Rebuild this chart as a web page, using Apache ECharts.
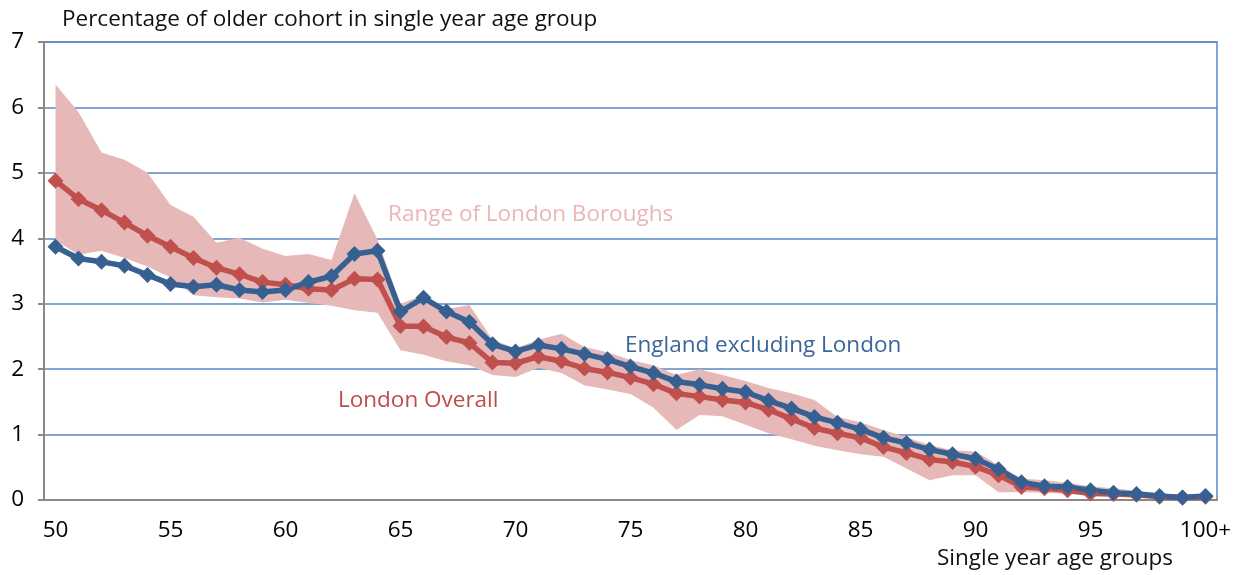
<!DOCTYPE html>
<html>
<head>
<meta charset="utf-8">
<title>Older cohort by single year of age</title>
<script src="https://cdn.jsdelivr.net/npm/echarts@6/dist/echarts.min.js"></script>
<style>
  html, body { margin: 0; padding: 0; background: #fff; }
  #chart { width: 1241px; height: 575px; }
</style>
</head>
<body>
<div id="chart"></div>
<script>
// single year age groups, 50 .. 100+
var ages = [];
for (var a = 50; a < 100; a++) ages.push(String(a));
ages.push('100+');

// England excluding London
var england = [3.87, 3.69, 3.64, 3.58, 3.44, 3.30, 3.26, 3.29, 3.21, 3.18,
  3.21, 3.33, 3.42, 3.76, 3.81, 2.88, 3.09, 2.88, 2.72, 2.38,
  2.27, 2.37, 2.31, 2.23, 2.15, 2.04, 1.94, 1.81, 1.76, 1.70,
  1.65, 1.52, 1.40, 1.27, 1.18, 1.08, 0.95, 0.87, 0.77, 0.70,
  0.63, 0.47, 0.27, 0.21, 0.20, 0.15, 0.11, 0.09, 0.06, 0.04, 0.06];

// London overall
var london = [4.88, 4.60, 4.43, 4.24, 4.04, 3.87, 3.70, 3.55, 3.45, 3.33,
  3.29, 3.23, 3.21, 3.38, 3.37, 2.66, 2.65, 2.49, 2.40, 2.10,
  2.09, 2.19, 2.12, 2.01, 1.95, 1.87, 1.77, 1.63, 1.58, 1.53,
  1.49, 1.38, 1.24, 1.10, 1.02, 0.95, 0.81, 0.72, 0.62, 0.58,
  0.51, 0.38, 0.20, 0.18, 0.15, 0.10, 0.09, 0.08, 0.05, 0.04, 0.05];

// range of London boroughs (max / min)
var boroughMax = [6.35, 5.93, 5.31, 5.20, 5.00, 4.51, 4.33, 3.93, 4.01, 3.84,
  3.73, 3.76, 3.67, 4.69, 3.98, 3.00, 3.13, 2.92, 2.98, 2.45,
  2.32, 2.45, 2.54, 2.34, 2.26, 2.14, 2.06, 1.91, 2.00, 1.91,
  1.82, 1.71, 1.63, 1.53, 1.27, 1.19, 1.07, 0.96, 0.84, 0.76,
  0.74, 0.53, 0.33, 0.30, 0.26, 0.21, 0.18, 0.14, 0.10, 0.08, 0.07];
var boroughMin = [3.97, 3.75, 3.81, 3.70, 3.57, 3.40, 3.13, 3.10, 3.08, 3.02,
  3.06, 3.01, 2.97, 2.90, 2.86, 2.29, 2.22, 2.12, 2.06, 1.91,
  1.88, 2.02, 1.94, 1.75, 1.69, 1.62, 1.41, 1.07, 1.30, 1.28,
  1.15, 1.02, 0.93, 0.83, 0.76, 0.70, 0.66, 0.48, 0.30, 0.38,
  0.38, 0.12, 0.12, 0.11, 0.09, 0.07, 0.05, 0.04, 0.03, 0.02, 0.02];

var yTicks = [0, 1, 2, 3, 4, 5, 6, 7];

// band height on top of the lower edge
var boroughSpan = boroughMax.map(function (v, i) {
  return +(v - boroughMin[i]).toFixed(2);
});

var font = '"Open Sans", "Noto Sans", sans-serif';
var axisGrey = '#898989';
var gridBlue = '#5b87c5';

var chart = echarts.init(document.getElementById('chart'));

var option = {
  animation: false,
  textStyle: { fontFamily: font },
  grid: {
    left: 44,
    right: 24,
    top: 42,
    bottom: 75,
    show: true,
    borderColor: gridBlue,
    borderWidth: 1.5
  },
  xAxis: {
    type: 'category',
    data: ages,
    boundaryGap: true,
    axisLine: { lineStyle: { color: axisGrey, width: 2 } },
    axisTick: { interval: 0, length: 7, lineStyle: { color: axisGrey, width: 2 } },
    axisLabel: { interval: 4, color: '#000', fontSize: 22.5, margin: 19, fontFamily: font },
    splitLine: { show: false }
  },
  yAxis: {
    type: 'value',
    min: 0,
    max: 7,
    interval: 1,
    axisLine: { show: true, lineStyle: { color: axisGrey, width: 2 } },
    axisTick: { show: true, length: 6, lineStyle: { color: axisGrey, width: 2 } },
    axisLabel: {
      color: '#000', fontSize: 22.5, margin: 20, fontFamily: font,
      formatter: function (v) { return yTicks.indexOf(v) >= 0 ? String(v) : ''; }
    },
    splitLine: { lineStyle: { color: gridBlue, width: 1.5 } }
  },
  graphic: [
    {
      type: 'text', left: 62, top: 8,
      style: { text: 'Percentage of older cohort in single year age group', font: '22.5px ' + font, fill: '#111' }
    },
    {
      type: 'text', right: 68, top: 547,
      style: { text: 'Single year age groups', font: '22.5px ' + font, fill: '#111' }
    },
    {
      type: 'text', left: 388, top: 203,
      style: { text: 'Range of London Boroughs', font: '22.5px ' + font, fill: '#e9b7b6' }
    },
    {
      type: 'text', left: 625, top: 334,
      style: { text: 'England excluding London', font: '22.5px ' + font, fill: '#3b669a' }
    },
    {
      type: 'text', left: 338, top: 389,
      style: { text: 'London Overall', font: '22.5px ' + font, fill: '#bf4c48' }
    }
  ],
  series: [
    {
      name: 'Borough min',
      type: 'line',
      stack: 'range',
      data: boroughMin,
      symbol: 'none',
      lineStyle: { opacity: 0 },
      silent: true
    },
    {
      name: 'Range of London Boroughs',
      type: 'line',
      stack: 'range',
      data: boroughSpan,
      symbol: 'none',
      lineStyle: { opacity: 0 },
      areaStyle: { color: '#e6b9b8', opacity: 1 },
      silent: true
    },
    {
      name: 'London Overall',
      type: 'line',
      data: london,
      symbol: 'diamond',
      symbolSize: 16,
      showAllSymbol: true,
      itemStyle: { color: '#c0504d' },
      lineStyle: { color: '#c0504d', width: 5.5 }
    },
    {
      name: 'England excluding London',
      type: 'line',
      data: england,
      symbol: 'diamond',
      symbolSize: 16,
      showAllSymbol: true,
      itemStyle: { color: '#366092' },
      lineStyle: { color: '#366092', width: 5.5 }
    }
  ]
};

chart.setOption(option);
</script>
</body>
</html>
